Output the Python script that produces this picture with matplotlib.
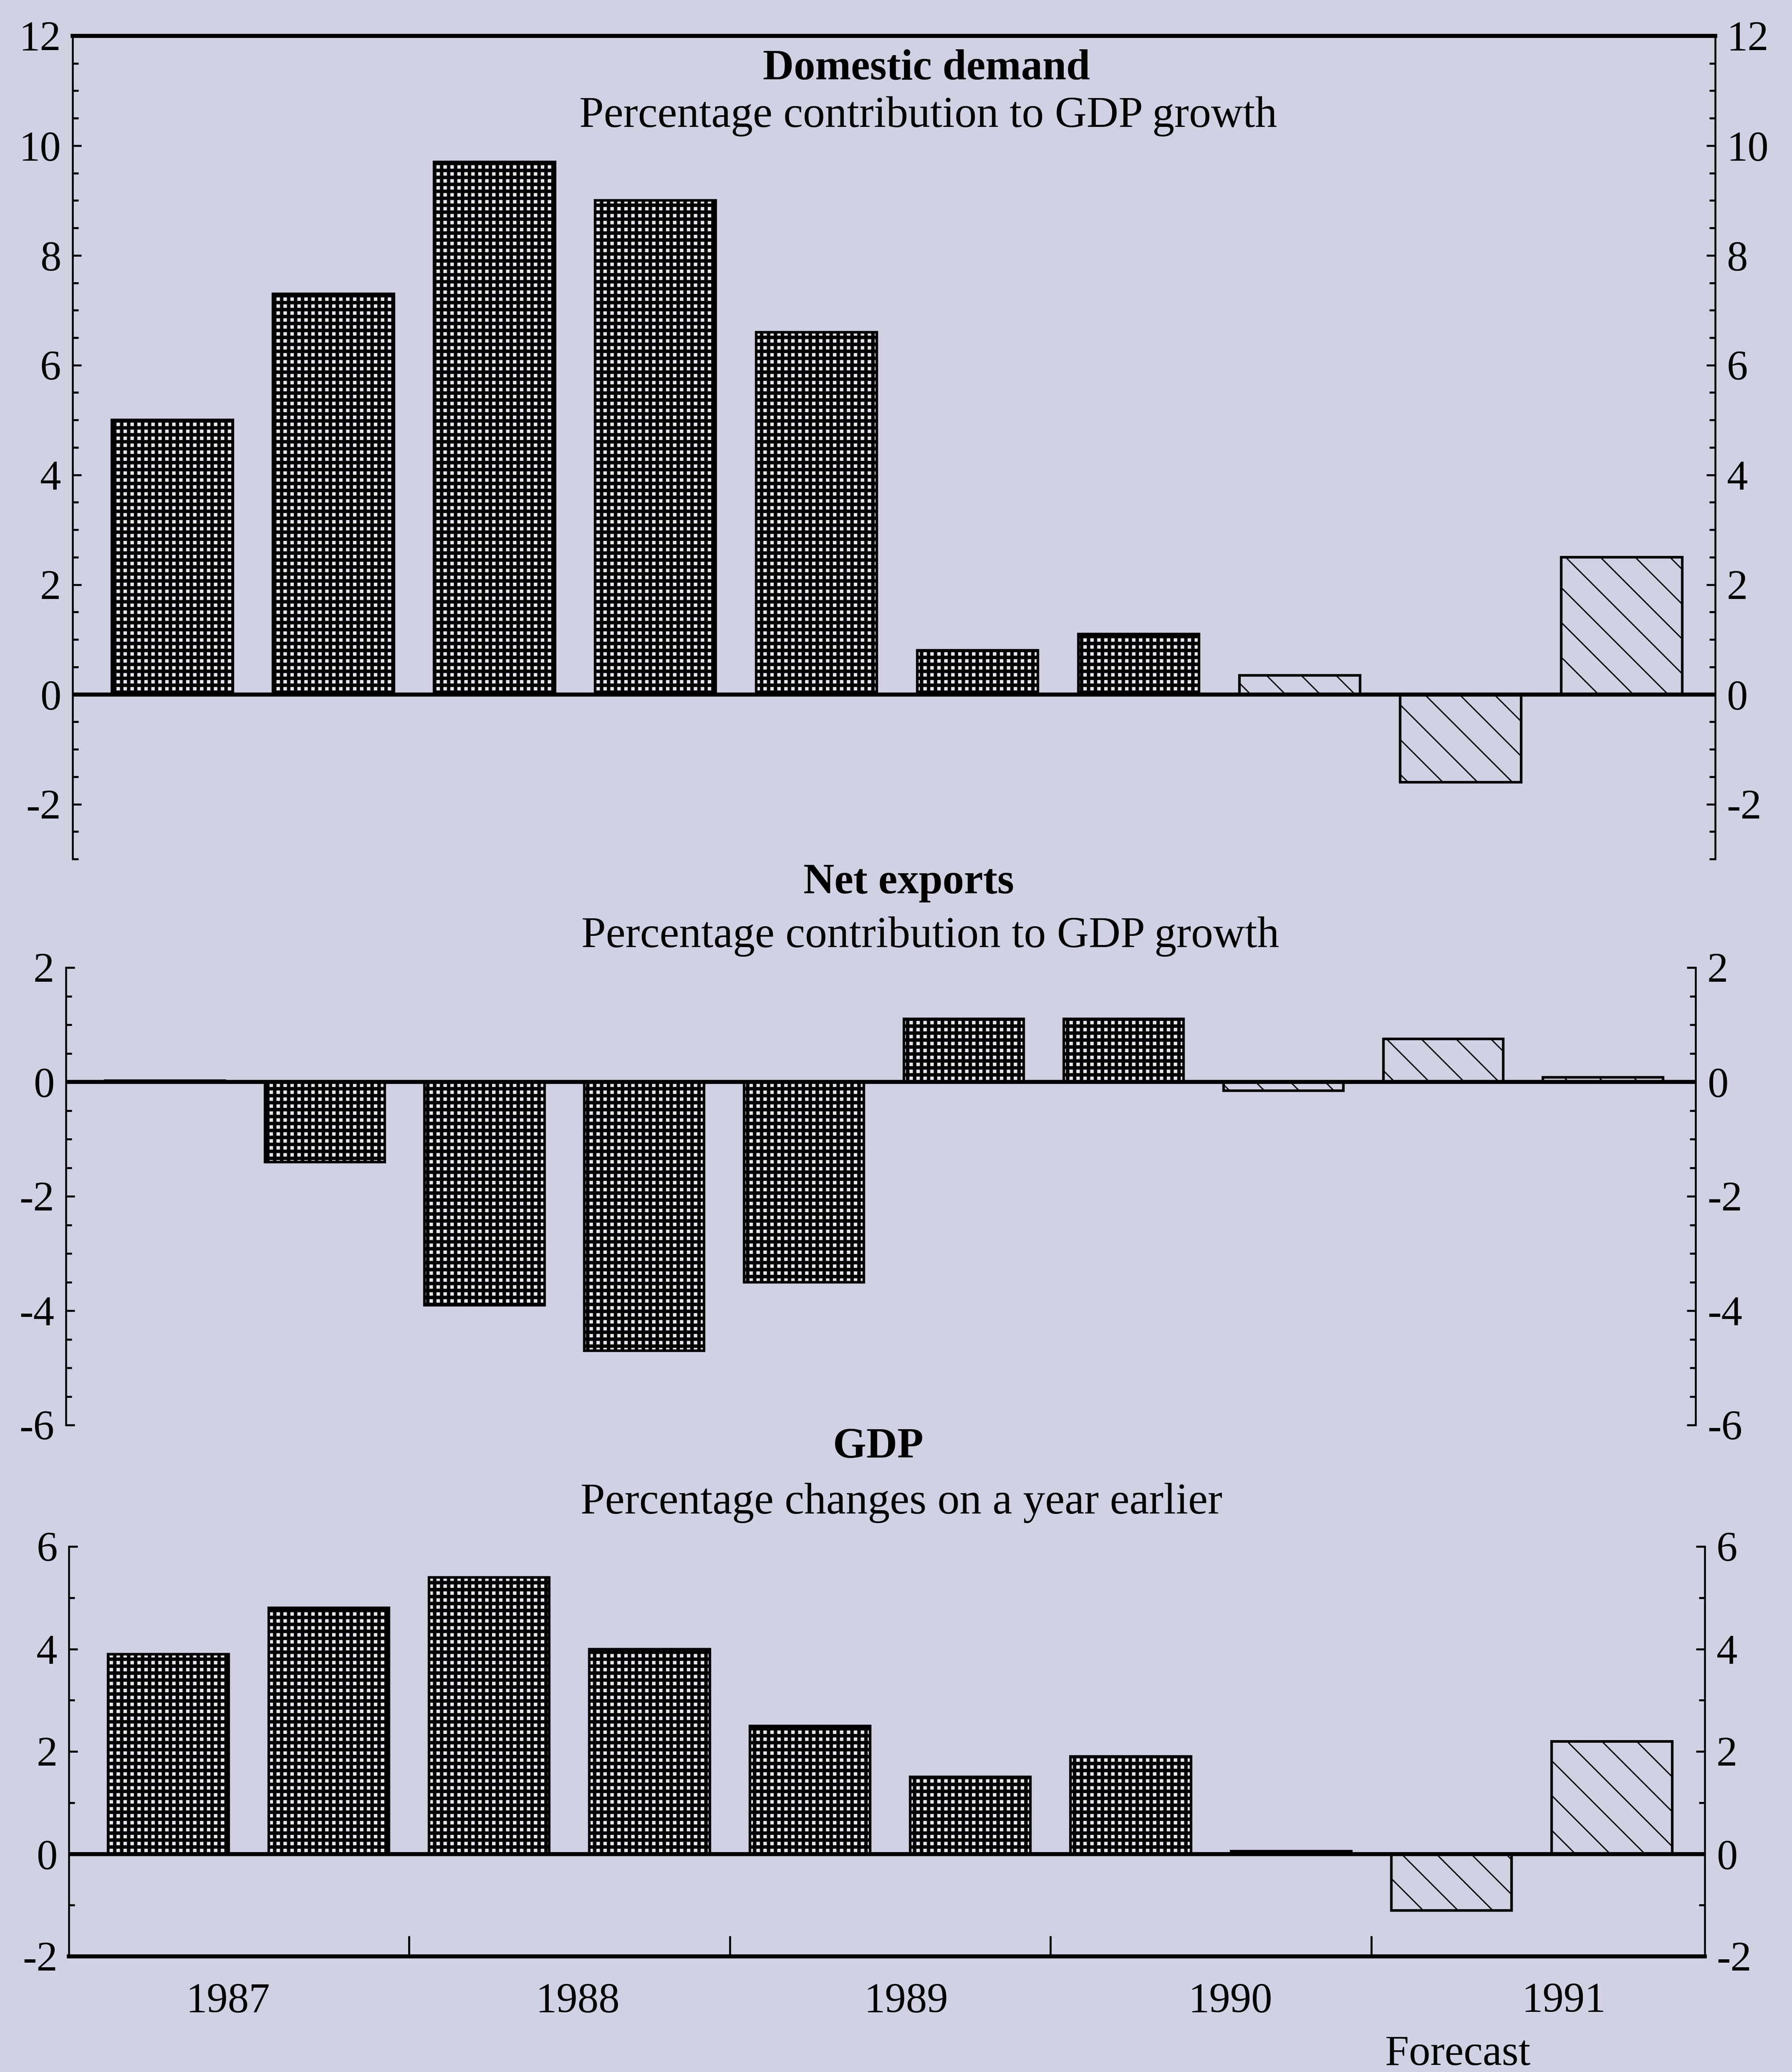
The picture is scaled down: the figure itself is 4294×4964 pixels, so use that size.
import matplotlib
matplotlib.use('Agg')
import matplotlib.pyplot as plt
from matplotlib.ticker import MultipleLocator
import numpy as np

# half-yearly periods, 1987 H1 .. 1991 H2 (last three are forecasts)
periods = np.arange(10)
is_forecast = [False, False, False, False, False, False, False, True, True, True]
years = ['1987', '1988', '1989', '1990', '1991']

domestic_demand = [5.0, 7.3, 9.7, 9.0, 6.6, 0.8, 1.1, 0.35, -1.6, 2.5]
net_exports = [0.02, -1.4, -3.9, -4.7, -3.5, 1.1, 1.1, -0.15, 0.75, 0.08]
gdp = [3.9, 4.8, 5.4, 4.0, 2.5, 1.5, 1.9, 0.05, -1.1, 2.2]

# where the year labels sit along the bottom axis (layout only)
year_label_pos = [0.37, 2.55, 4.6, 6.62, 8.7]
year_breaks = [1.5, 3.5, 5.5, 7.5]

bg = '#d0d2e4'
DPI = 500
DOT_LW = 1.2       # crosshatch line width (pt) -> dark "dotted" bars
FC_LW = 0.45       # forecast diagonal hatch width (pt)

plt.rcParams['font.family'] = ['Liberation Serif', 'DejaVu Serif']
plt.rcParams['axes.unicode_minus'] = False
plt.rcParams['font.size'] = 14

fig = plt.figure(figsize=(4294 / DPI, 4964 / DPI), dpi=DPI, facecolor=bg)

# axes rectangles [left, bottom, width, height] in figure fractions
ax1 = fig.add_axes([0.0405, 0.5854, 0.9166, 0.3973])
ax2 = fig.add_axes([0.0368, 0.3122, 0.9094, 0.2208])
ax3 = fig.add_axes([0.0385, 0.0558, 0.9129, 0.1978])


def draw_bars(ax, values):
    for x, v, fc in zip(periods, values, is_forecast):
        lw = FC_LW if fc else DOT_LW
        with plt.rc_context({'hatch.linewidth': lw}):
            if fc:
                b = ax.bar(x, v, width=0.75, facecolor=bg, edgecolor='black',
                           linewidth=0.9, hatch='\\\\', zorder=3)
            else:
                b = ax.bar(x, v, width=0.75, facecolor='#e8e8f2', edgecolor='black',
                           linewidth=0.9, hatch='+++++', zorder=3)
        for p in b.patches:
            if hasattr(p, 'set_hatch_linewidth'):
                p.set_hatch_linewidth(lw)
    ax.axhline(0, color='black', linewidth=1.4, zorder=4)


def setup(ax, lo, hi, minor):
    ax.set_facecolor('none')
    ax.set_xlim(-0.62, 9.58)
    ax.set_ylim(lo, hi)
    ax.set_yticks(np.arange(lo if lo % 2 == 0 else lo + 1, hi + 0.1, 2))
    ax.yaxis.set_minor_locator(MultipleLocator(minor))
    ax.tick_params(axis='y', which='both', direction='in', left=True, right=True,
                   labelleft=True, labelright=True, width=0.7, colors='black',
                   labelsize=14.5)
    ax.tick_params(axis='y', which='major', length=3, pad=4)
    ax.tick_params(axis='y', which='minor', length=2)
    for side in ['left', 'right']:
        ax.spines[side].set_linewidth(0.65)
    ax.spines['top'].set_visible(False)
    ax.spines['bottom'].set_visible(False)
    ax.set_xticks([])


# Panel 1: domestic demand
draw_bars(ax1, domestic_demand)
setup(ax1, -3, 12, 0.5)
ax1.spines['top'].set_visible(True)
ax1.spines['top'].set_linewidth(1.4)

# Panel 2: net exports
draw_bars(ax2, net_exports)
setup(ax2, -6, 2, 0.5)

# Panel 3: GDP
draw_bars(ax3, gdp)
setup(ax3, -2, 6, 1)
ax3.spines['bottom'].set_visible(True)
ax3.spines['bottom'].set_linewidth(1.4)
ax3.set_xticks(year_breaks)
ax3.set_xticks(year_label_pos, minor=True)
ax3.set_xticklabels(years, minor=True)
ax3.tick_params(axis='x', which='major', direction='in', length=7, width=0.7,
                labelbottom=False)
ax3.tick_params(axis='x', which='minor', length=0, pad=9, labelsize=14.5)

# panel headings
fig.text(0.517, 0.9668, 'Domestic demand', ha='center', va='center',
         fontsize=14.8, fontweight='bold')
fig.text(0.518, 0.9438, 'Percentage contribution to GDP growth', ha='center',
         va='center', fontsize=15.2)
fig.text(0.507, 0.574, 'Net exports', ha='center', va='center',
         fontsize=14.8, fontweight='bold')
fig.text(0.519, 0.548, 'Percentage contribution to GDP growth', ha='center',
         va='center', fontsize=15.2)
fig.text(0.490, 0.3015, 'GDP', ha='center', va='center',
         fontsize=14.8, fontweight='bold')
fig.text(0.503, 0.2747, 'Percentage changes on a year earlier', ha='center',
         va='center', fontsize=15.2)
fig.text(0.8134, 0.0085, 'Forecast', ha='center', va='center', fontsize=14.8)

fig.savefig('out.png', dpi=DPI, facecolor=bg)
